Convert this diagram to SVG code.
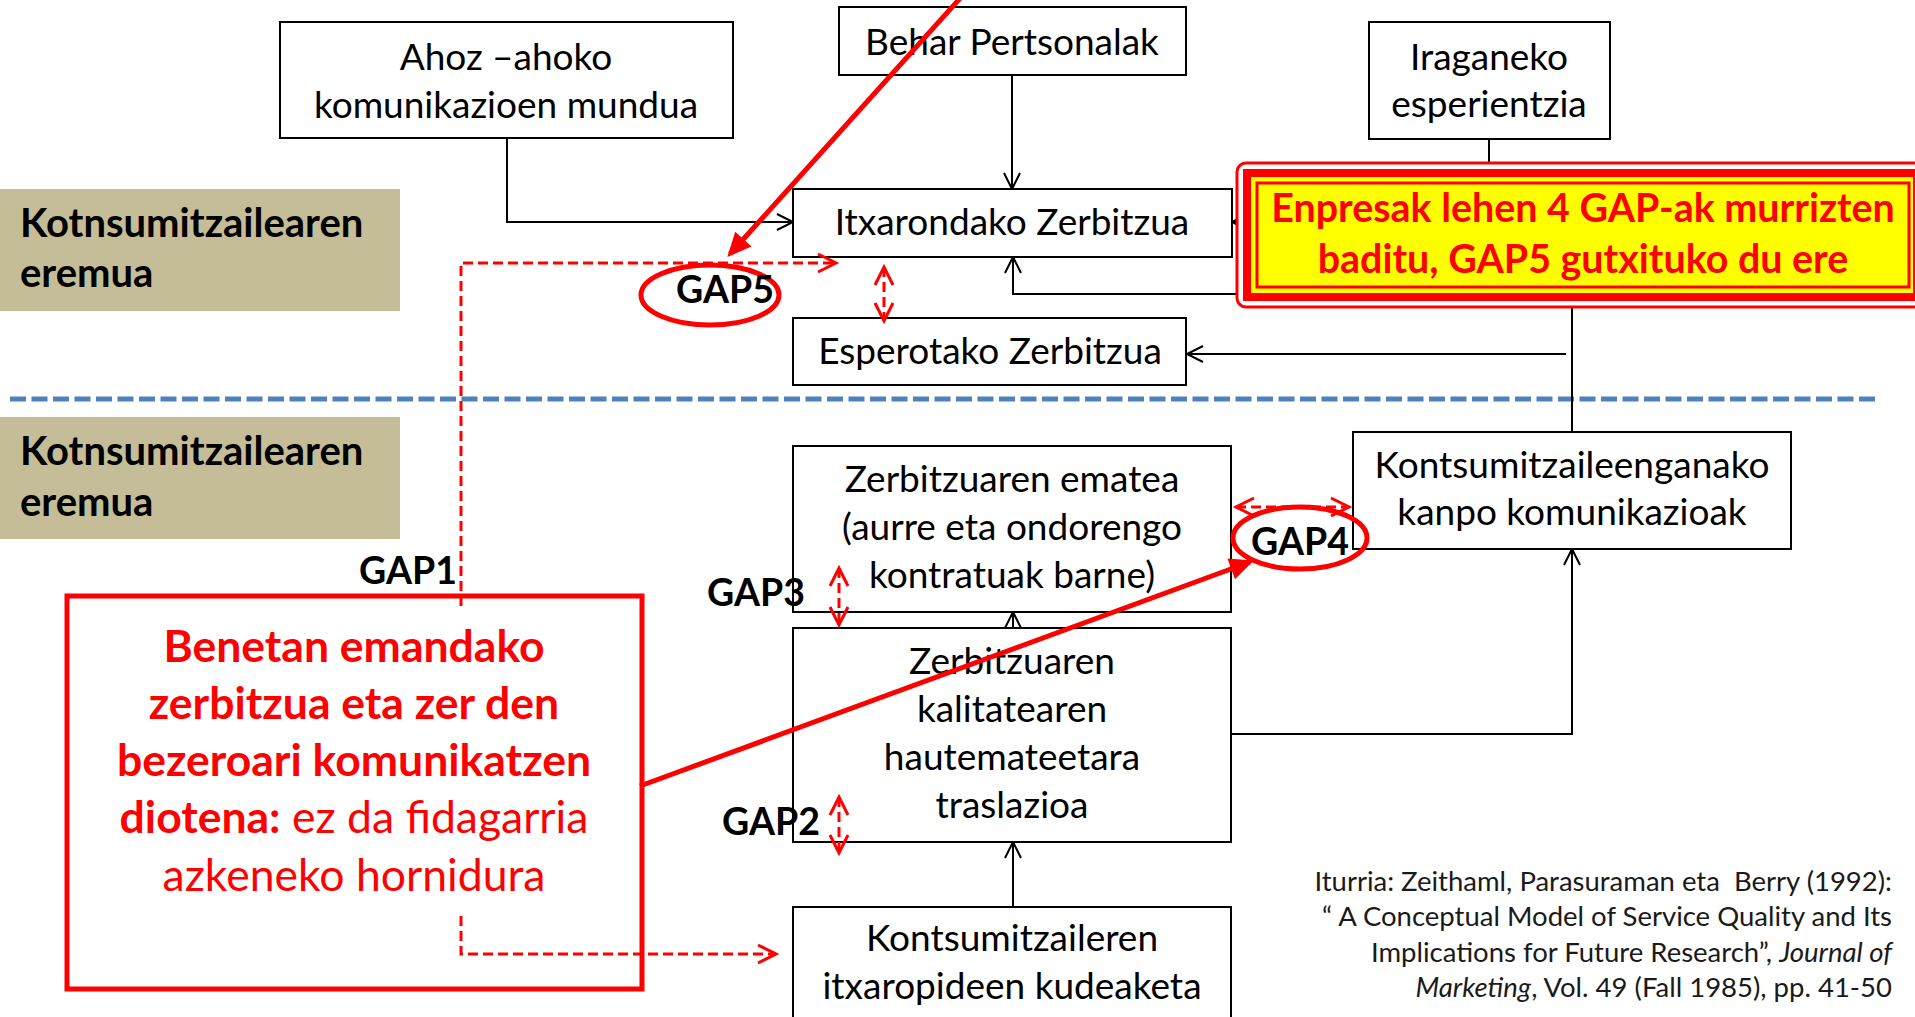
<svg xmlns="http://www.w3.org/2000/svg" width="1915" height="1017" viewBox="0 0 1915 1017">
<style>
  .box{fill:#fff;stroke:#000;stroke-width:2}
  .t{font-family:Lato,"Open Sans",sans-serif;font-size:37px;fill:#000;text-anchor:middle}
  .lbl{font-family:Lato,"Open Sans",sans-serif;font-weight:bold;font-size:40px;fill:#000}
  .zone{fill:#C4BD97}
  .ln{fill:none;stroke:#000;stroke-width:2}
  .rd{fill:none;stroke:#f00;stroke-width:3;stroke-dasharray:10 5}
  .rs{fill:none;stroke:#f00;stroke-width:5}
  .ring{fill:none;stroke:#f00;stroke-width:5}
  .gap{font-family:Lato,"Open Sans",sans-serif;font-weight:bold;font-size:37.5px;fill:#000}
  .red{font-family:Lato,"Open Sans",sans-serif;font-size:44.5px;fill:#f00;text-anchor:middle}
  .b{font-weight:bold}
  .note{font-family:Lato,"Open Sans",sans-serif;font-weight:bold;font-size:39.4px;fill:#f00;text-anchor:middle}
  .cite{font-family:Lato,"Open Sans",sans-serif;font-size:27.5px;fill:#1a1a1a;text-anchor:end}
</style>
<defs>
  <marker id="ah" viewBox="-20 -12 24 24" markerWidth="24" markerHeight="24" refX="0" refY="0" orient="auto" markerUnits="userSpaceOnUse">
    <path d="M-16,-8 L0,0 L-16,8" fill="none" stroke="#000" stroke-width="2"/>
  </marker>
  <marker id="rah" viewBox="-22 -12 26 24" markerWidth="26" markerHeight="24" refX="0" refY="0" orient="auto-start-reverse" markerUnits="userSpaceOnUse">
    <path d="M-18,-9 L0,0 L-18,9" fill="none" stroke="#f00" stroke-width="3"/>
  </marker>
  <marker id="rfill" viewBox="-26 -14 32 28" markerWidth="32" markerHeight="28" refX="0" refY="0" orient="auto" markerUnits="userSpaceOnUse">
    <path d="M-20,-11 L4,0 L-20,11 Z" fill="#f00"/>
  </marker>
</defs>

<rect width="1915" height="1017" fill="#fff"/>

<!-- zone labels -->
<g id="zone-top">
  <rect class="zone" x="0" y="189" width="400" height="122"/>
  <text class="lbl" x="20" y="237">Kotnsumitzailearen</text>
  <text class="lbl" x="20" y="287">eremua</text>
</g>
<g id="zone-bottom">
  <rect class="zone" x="0" y="417" width="400" height="122"/>
  <text class="lbl" x="20" y="465">Kotnsumitzailearen</text>
  <text class="lbl" x="20" y="516">eremua</text>
</g>

<!-- zone divider -->
<line id="divider" x1="10" y1="399" x2="1876" y2="399" stroke="#4F81BD" stroke-width="5" stroke-dasharray="16 5.5"/>

<!-- black connectors -->
<g id="connectors">
  <path class="ln" d="M1012,75 V189" marker-end="url(#ah)"/>
  <path class="ln" d="M507,138 V222 H793" marker-end="url(#ah)"/>
  <path class="ln" d="M1489,139 V222 H1232" marker-end="url(#ah)"/>
  <path class="ln" d="M1572,432 V294 H1013 V257" stroke-width="2.5" marker-end="url(#ah)"/>
  <path class="ln" d="M1566,354 H1187" marker-end="url(#ah)"/>
  <path class="ln" d="M1231,734 H1572 V549" stroke-width="2.5" marker-end="url(#ah)"/>
  <path class="ln" d="M1013,907 V842" marker-end="url(#ah)"/>
  <path class="ln" d="M1013,628 V612" marker-end="url(#ah)"/>
</g>

<!-- nodes -->
<g id="n-ahoz">
  <rect class="box" x="280" y="22" width="453" height="116"/>
  <text class="t" x="506" y="70">Ahoz –ahoko</text>
  <text class="t" x="506" y="118">komunikazioen mundua</text>
</g>
<g id="n-behar">
  <rect class="box" x="839" y="7" width="347" height="68"/>
  <text class="t" x="1012" y="55">Behar Pertsonalak</text>
</g>
<g id="n-iraganeko">
  <rect class="box" x="1369" y="22" width="241" height="117"/>
  <text class="t" x="1489" y="70">Iraganeko</text>
  <text class="t" x="1489" y="117">esperientzia</text>
</g>
<g id="n-itxarondako">
  <rect class="box" x="793" y="189" width="439" height="68"/>
  <text class="t" x="1012" y="235">Itxarondako Zerbitzua</text>
</g>
<g id="n-esperotako">
  <rect class="box" x="793" y="318" width="393" height="67"/>
  <text class="t" x="990" y="364">Esperotako Zerbitzua</text>
</g>
<g id="n-ematea">
  <rect class="box" x="793" y="446" width="438" height="166"/>
  <text class="t" x="1012" y="492">Zerbitzuaren ematea</text>
  <text class="t" x="1012" y="540">(aurre eta ondorengo</text>
  <text class="t" x="1012" y="588">kontratuak barne)</text>
</g>
<g id="n-kalitatea">
  <rect class="box" x="793" y="628" width="438" height="214"/>
  <text class="t" x="1012" y="674">Zerbitzuaren</text>
  <text class="t" x="1012" y="722">kalitatearen</text>
  <text class="t" x="1012" y="770">hautemateetara</text>
  <text class="t" x="1012" y="818">traslazioa</text>
</g>
<g id="n-itxaropideak">
  <rect class="box" x="793" y="907" width="438" height="125"/>
  <text class="t" x="1012" y="951">Kontsumitzaileren</text>
  <text class="t" x="1012" y="999">itxaropideen kudeaketa</text>
</g>
<g id="n-kanpo">
  <rect class="box" x="1353" y="432" width="438" height="117"/>
  <text class="t" x="1572" y="478">Kontsumitzaileenganako</text>
  <text class="t" x="1572" y="525">kanpo komunikazioak</text>
</g>

<!-- highlighted note -->
<g id="n-enpresak">
  <rect x="1237" y="163" width="720" height="144" rx="9" fill="#fff" stroke="#f00" stroke-width="3"/>
  <rect x="1243" y="169" width="700" height="132" fill="#f00"/>
  <rect x="1251" y="177" width="662" height="116" fill="#ff0"/>
  <rect x="1257" y="183" width="652" height="104" fill="none" stroke="#f00" stroke-width="3"/>
  <text class="note" x="1583" y="222">Enpresak lehen 4 GAP-ak murrizten</text>
  <text class="note" x="1583" y="273">baditu, GAP5 gutxituko du ere</text>
</g>

<!-- gap connectors -->
<g id="gap-connectors">
  <path class="rd" d="M461,606 V263 H836" marker-end="url(#rah)"/>
  <path class="rd" d="M461,916 V954 H776" marker-end="url(#rah)"/>
  <path class="rd" d="M884,267 V321" marker-start="url(#rah)" marker-end="url(#rah)"/>
  <path class="rd" d="M839,568 V625" marker-start="url(#rah)" marker-end="url(#rah)"/>
  <path class="rd" d="M839,797 V853" marker-start="url(#rah)" marker-end="url(#rah)"/>
  <path class="rd" d="M1236,507 H1349" marker-start="url(#rah)" marker-end="url(#rah)"/>
</g>

<!-- gap labels -->
<g id="gap5">
  <ellipse class="ring" cx="710" cy="295" rx="69" ry="30"/>
  <text class="gap" x="725" y="303" text-anchor="middle">GAP5</text>
</g>
<g id="gap4">
  <ellipse class="ring" cx="1300" cy="538" rx="67" ry="31"/>
  <text class="gap" x="1300" y="555" text-anchor="middle">GAP4</text>
</g>
<text id="gap1" class="gap" x="359" y="584">GAP1</text>
<text id="gap3" class="gap" x="707" y="606">GAP3</text>
<text id="gap2" class="gap" x="722" y="835">GAP2</text>

<!-- GAP4 explanation -->
<g id="n-benetan">
  <rect x="67" y="596" width="575" height="393" fill="none" stroke="#f00" stroke-width="5"/>
  <text class="red b" x="354" y="662">Benetan emandako</text>
  <text class="red b" x="354" y="719">zerbitzua eta zer den</text>
  <text class="red b" x="354" y="776">bezeroari komunikatzen</text>
  <text class="red" x="354" y="833"><tspan font-weight="bold">diotena:</tspan> ez da fidagarria</text>
  <text class="red" x="354" y="891">azkeneko hornidura</text>
</g>

<!-- callout arrows -->
<g id="callouts">
  <path class="rs" d="M963,-5 L730,254" marker-end="url(#rfill)"/>
  <path class="rs" d="M640,786 L1250,562" marker-end="url(#rfill)"/>
</g>

<!-- source -->
<g id="source">
  <text class="cite" x="1892" y="891">Iturria: Zeithaml, Parasuraman eta&#160; Berry (1992):</text>
  <text class="cite" x="1892" y="926">“ A Conceptual Model of Service Quality and Its</text>
  <text class="cite" x="1892" y="962">Implications for Future Research”, <tspan font-style="italic">Journal of</tspan></text>
  <text class="cite" x="1892" y="997"><tspan font-style="italic">Marketing</tspan>, Vol. 49 (Fall 1985), pp. 41-50</text>
</g>
</svg>
